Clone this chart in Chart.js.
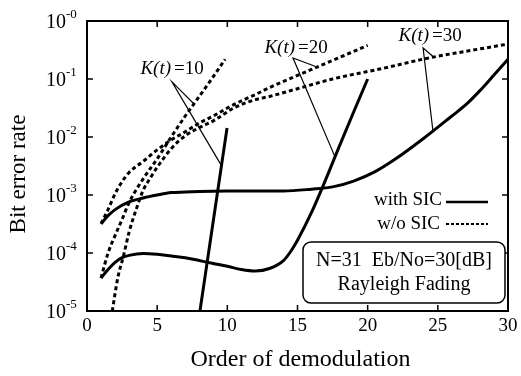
<!DOCTYPE html>
<html>
<head>
<meta charset="utf-8">
<script src="https://cdn.jsdelivr.net/npm/chart.js@4.4.0/dist/chart.umd.min.js"></script>
<style>
  html, body { margin: 0; padding: 0; background: #fff; }
  #wrap { width: 521px; height: 376px; }
</style>
</head>
<body>
<div id="wrap"><canvas id="berChart" width="521" height="376"></canvas></div>
<script>
// axis ticks
const orderTicks = [0, 5, 10, 15, 20, 25, 30];
const berTickExps = [0, -1, -2, -3, -4, -5];

// with SIC (solid)
const sicK10X = [8.05, 9, 9.98];
const sicK10Y = [1e-5, 3.6e-4, 1.43e-2];
const sicK20X = [1, 1.5, 2, 2.5, 3, 4, 5, 6, 7, 8, 9, 10, 11, 12, 13, 14, 14.5, 15, 16, 17, 18, 19, 20];
const sicK20Y = [3.7e-5, 5.2e-5, 6.9e-5, 8.3e-5, 9.1e-5, 9.8e-5, 9.5e-5, 8.9e-5, 8.3e-5, 7.4e-5, 6.6e-5, 5.9e-5, 5.2e-5, 4.9e-5, 5.4e-5, 7.4e-5, 1.05e-4, 1.66e-4, 5.0e-4, 1.82e-3, 7.1e-3, 2.7e-2, 0.1];
const sicK30X = [1, 1.5, 2, 3, 4, 5, 6, 8, 10, 12, 14, 16, 17.5, 19, 20.5, 22, 24, 26, 27, 28, 29, 30];
const sicK30Y = [3.2e-4, 4.4e-4, 5.6e-4, 7.6e-4, 8.9e-4, 1.0e-3, 1.1e-3, 1.15e-3, 1.17e-3, 1.17e-3, 1.17e-3, 1.26e-3, 1.38e-3, 1.74e-3, 2.5e-3, 4.2e-3, 9.5e-3, 2.3e-2, 3.6e-2, 6.3e-2, 0.117, 0.22];

// w/o SIC (dashed)
const noSicK10X = [1, 1.5, 2, 2.5, 3, 4, 5, 6, 7, 8, 9, 9.84];
const noSicK10Y = [3.7e-5, 1.0e-4, 2.0e-4, 3.8e-4, 7.4e-4, 1.9e-3, 4.2e-3, 1.0e-2, 2.3e-2, 5.0e-2, 0.11, 0.219];
const noSicK20X = [1, 1.5, 2, 2.5, 3, 4, 5, 6, 7, 8, 9, 10, 11, 12, 13, 15, 17.5, 20];
const noSicK20Y = [3.2e-4, 5.6e-4, 1.05e-3, 1.7e-3, 2.45e-3, 3.8e-3, 6.0e-3, 8.9e-3, 1.23e-2, 1.74e-2, 2.3e-2, 3.16e-2, 4.2e-2, 5.4e-2, 7.1e-2, 0.115, 0.209, 0.38];
const noSicK30X = [1.8, 2.2, 2.6, 3, 3.5, 4, 4.5, 5, 6, 7, 8, 9, 10.5, 12, 13, 15, 17.5, 21, 24.3, 27, 30];
const noSicK30Y = [1e-5, 3.8e-5, 8.9e-5, 2.3e-4, 5.6e-4, 1.2e-3, 1.95e-3, 3.0e-3, 6.3e-3, 1.05e-2, 1.45e-2, 1.9e-2, 3.2e-2, 4.4e-2, 5.0e-2, 6.8e-2, 0.1, 0.151, 0.229, 0.30, 0.40];

// label leader lines: dashed curve -> label -> solid curve
const leadK10X = [7.63, 6.06, 9.55];
const leadK10Y = [0.037, 0.089, 0.0033];
const leadK20X = [16.25, 14.68, 17.68];
const leadK20Y = [0.166, 0.23, 0.0045];
const leadK30X = [24.66, 23.95, 24.66];
const leadK30Y = [0.245, 0.342, 0.0122];

const kLabels = [
  { text: "=10", x: 6.06, y: 0.148 },
  { text: "=20", x: 14.9, y: 0.342 },
  { text: "=30", x: 24.45, y: 0.55 }
];

const SERIF = "'Liberation Serif', 'Times New Roman', serif";

function pts(xs, ys) {
  return xs.map((x, i) => ({ x: x, y: ys[i] }));
}

function solid(xs, ys) {
  return { data: pts(xs, ys), borderColor: "#000", borderWidth: 3, cubicInterpolationMode: "monotone" };
}
function dashed(xs, ys) {
  return { data: pts(xs, ys), borderColor: "#000", borderWidth: 3, borderDash: [4, 3], cubicInterpolationMode: "monotone" };
}
function leader(xs, ys) {
  return { data: pts(xs, ys), borderColor: "#000", borderWidth: 1.2, tension: 0 };
}

// frame, ticks and all the text
const decorations = {
  id: "decorations",
  afterDraw(chart) {
    const ctx = chart.ctx;
    const a = chart.chartArea;
    const xs = chart.scales.x, ys = chart.scales.y;
    ctx.save();
    ctx.strokeStyle = "#000";
    ctx.fillStyle = "#000";

    // frame
    ctx.lineWidth = 2;
    ctx.strokeRect(a.left, a.top, a.right - a.left, a.bottom - a.top);

    // inward ticks
    ctx.lineWidth = 1.5;
    ctx.beginPath();
    orderTicks.forEach(v => {
      const px = xs.getPixelForValue(v);
      ctx.moveTo(px, a.bottom); ctx.lineTo(px, a.bottom - 6);
      ctx.moveTo(px, a.top); ctx.lineTo(px, a.top + 6);
    });
    berTickExps.forEach(e => {
      const py = ys.getPixelForValue(Math.pow(10, e));
      ctx.moveTo(a.left, py); ctx.lineTo(a.left + 6, py);
      ctx.moveTo(a.right, py); ctx.lineTo(a.right - 6, py);
    });
    ctx.stroke();

    // x tick labels
    ctx.font = "19px " + SERIF;
    ctx.textAlign = "center";
    ctx.textBaseline = "middle";
    orderTicks.forEach(v => {
      ctx.fillText(String(v), xs.getPixelForValue(v), a.bottom + 15);
    });

    // y tick labels 10^e
    berTickExps.forEach(e => {
      const py = ys.getPixelForValue(Math.pow(10, e));
      ctx.font = "20px " + SERIF;
      ctx.textAlign = "right";
      ctx.fillText("10", a.left - 21, py + 2);
      ctx.font = "13px " + SERIF;
      ctx.textAlign = "left";
      ctx.fillText("-" + Math.abs(e), a.left - 21, py - 6);
    });

    // axis titles
    ctx.font = "24px " + SERIF;
    ctx.textAlign = "center";
    ctx.fillText("Order of demodulation", (a.left + a.right) / 2 + 3, 360);
    ctx.save();
    ctx.translate(19, (a.top + a.bottom) / 2 + 8);
    ctx.rotate(-Math.PI / 2);
    ctx.font = "23px " + SERIF;
    ctx.fillText("Bit error rate", 0, 0);
    ctx.restore();

    // K(t) labels
    kLabels.forEach(l => {
      const px = xs.getPixelForValue(l.x), py = ys.getPixelForValue(l.y);
      ctx.font = "italic 19px " + SERIF;
      const w1 = ctx.measureText("K(t)").width;
      ctx.font = "19px " + SERIF;
      const w2 = ctx.measureText(l.text).width;
      const left = px - (w1 + 3 + w2) / 2;
      ctx.textAlign = "left";
      ctx.font = "italic 19px " + SERIF;
      ctx.fillText("K(t)", left, py);
      ctx.font = "19px " + SERIF;
      ctx.fillText(l.text, left + w1 + 3, py);
    });

    // legend
    ctx.font = "19px " + SERIF;
    ctx.textAlign = "right";
    ctx.fillText("with SIC", a.right - 66, 200);
    ctx.fillText("w/o SIC", a.right - 68, 224);
    ctx.lineWidth = 2.5;
    ctx.beginPath();
    ctx.moveTo(a.right - 62, 202); ctx.lineTo(a.right - 20, 202);
    ctx.stroke();
    ctx.lineWidth = 2;
    ctx.setLineDash([3, 2]);
    ctx.beginPath();
    ctx.moveTo(a.right - 62, 224); ctx.lineTo(a.right - 20, 224);
    ctx.stroke();
    ctx.setLineDash([]);

    // condition box
    const bx = a.right - 205, by = 242, bw = 202, bh = 61, r = 8;
    ctx.beginPath();
    ctx.moveTo(bx + r, by);
    ctx.arcTo(bx + bw, by, bx + bw, by + bh, r);
    ctx.arcTo(bx + bw, by + bh, bx, by + bh, r);
    ctx.arcTo(bx, by + bh, bx, by, r);
    ctx.arcTo(bx, by, bx + bw, by, r);
    ctx.closePath();
    ctx.fillStyle = "#fff";
    ctx.fill();
    ctx.lineWidth = 1.5;
    ctx.stroke();
    ctx.fillStyle = "#000";
    ctx.font = "20px " + SERIF;
    ctx.textAlign = "center";
    ctx.fillText("N=31  Eb/No=30[dB]", bx + bw / 2, by + 19);
    ctx.fillText("Rayleigh Fading", bx + bw / 2, by + 43);

    ctx.restore();
  }
};

new Chart(document.getElementById("berChart"), {
  type: "line",
  data: {
    datasets: [
      solid(sicK10X, sicK10Y),
      solid(sicK20X, sicK20Y),
      solid(sicK30X, sicK30Y),
      dashed(noSicK10X, noSicK10Y),
      dashed(noSicK20X, noSicK20Y),
      dashed(noSicK30X, noSicK30Y),
      leader(leadK10X, leadK10Y),
      leader(leadK20X, leadK20Y),
      leader(leadK30X, leadK30Y)
    ]
  },
  options: {
    responsive: false,
    animation: false,
    devicePixelRatio: 1,
    layout: { padding: { left: 87, right: 13, top: 21, bottom: 65 } },
    elements: { point: { radius: 0 } },
    plugins: { legend: { display: false }, tooltip: { enabled: false } },
    scales: {
      x: { type: "linear", min: 0, max: 30, display: false },
      y: { type: "logarithmic", min: 1e-5, max: 1, display: false }
    }
  },
  plugins: [decorations]
});
</script>
</body>
</html>
